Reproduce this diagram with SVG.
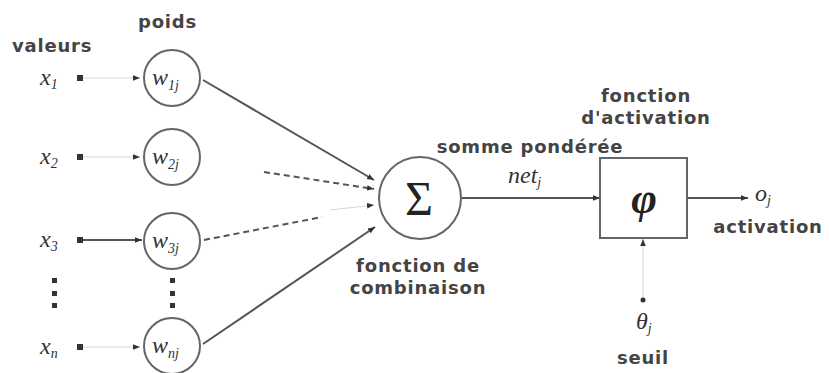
<svg xmlns="http://www.w3.org/2000/svg" width="829" height="373" viewBox="0 0 829 373">
<style>
.lbl{font-family:"DejaVu Sans","Liberation Sans",sans-serif;font-size:18px;letter-spacing:0.8px;font-weight:bold;fill:#444}
.var{font-family:"Liberation Serif",serif;font-style:italic;font-size:24px;fill:#333}
.sub{font-size:14px}
.node{fill:#fff;stroke:#666;stroke-width:2}
.ln{stroke:#555;stroke-width:2;fill:none}
.dash{stroke:#555;stroke-width:2;fill:none;stroke-dasharray:6 4}
.faint{stroke:#ccc;stroke-width:0.8;fill:none}
</style>
<defs>
<marker id="ahs" viewBox="0 0 10 10" refX="10" refY="5" markerWidth="7" markerHeight="7" orient="auto" markerUnits="userSpaceOnUse">
<path d="M0,1 L10,5 L0,9 z" fill="#333"/>
</marker>
</defs>

<text class="lbl" x="12" y="52">valeurs</text>
<text class="lbl" x="138" y="28">poids</text>

<g id="connectors">
<line class="faint" x1="82" y1="78" x2="140" y2="78" marker-end="url(#ahs)"/>
<line class="faint" x1="82" y1="157" x2="140" y2="157" marker-end="url(#ahs)"/>
<line class="ln" x1="82" y1="240" x2="142" y2="240" marker-end="url(#ahs)"/>
<line class="faint" x1="82" y1="347" x2="140" y2="347" marker-end="url(#ahs)"/>
<line class="ln" x1="203" y1="80" x2="374" y2="180" marker-end="url(#ahs)"/>
<line class="dash" x1="264" y1="172" x2="374" y2="189" marker-end="url(#ahs)"/>
<line class="dash" x1="204" y1="240" x2="322" y2="217"/>
<line class="faint" x1="330" y1="210" x2="374" y2="205" marker-end="url(#ahs)"/>
<line class="ln" x1="203" y1="344" x2="375" y2="227" marker-end="url(#ahs)"/>
<line class="ln" x1="462" y1="198" x2="600" y2="198" marker-end="url(#ahs)"/>
<line class="ln" x1="688" y1="198" x2="748" y2="198" marker-end="url(#ahs)"/>
<line class="faint" x1="643" y1="300" x2="643" y2="239" marker-end="url(#ahs)"/>
<circle cx="643" cy="300" r="2.5" fill="#333"/>
</g>

<g id="x1"><text class="var" x="40" y="85">x<tspan class="sub" dy="4">1</tspan></text><rect x="77" y="75" width="6" height="6" fill="#333"/></g>
<g id="x2"><text class="var" x="40" y="164">x<tspan class="sub" dy="4">2</tspan></text><rect x="77" y="154" width="6" height="6" fill="#333"/></g>
<g id="x3"><text class="var" x="40" y="247">x<tspan class="sub" dy="4">3</tspan></text><rect x="77" y="237" width="6" height="6" fill="#333"/></g>
<g id="xn"><text class="var" x="40" y="354">x<tspan class="sub" dy="4">n</tspan></text><rect x="77" y="344" width="6" height="6" fill="#333"/></g>

<g id="vdots1" fill="#333"><rect x="52" y="278" width="5" height="5"/><rect x="52" y="291" width="5" height="5"/><rect x="52" y="303" width="5" height="5"/></g>
<g id="vdots2" fill="#333"><rect x="170" y="278" width="5" height="5"/><rect x="170" y="291" width="5" height="5"/><rect x="170" y="303" width="5" height="5"/></g>

<g id="w1j"><circle class="node" cx="172" cy="78" r="28"/><text class="var" x="152" y="85">w<tspan class="sub" dy="5">1j</tspan></text></g>
<g id="w2j"><circle class="node" cx="172" cy="157" r="28"/><text class="var" x="152" y="164">w<tspan class="sub" dy="5">2j</tspan></text></g>
<g id="w3j"><circle class="node" cx="172" cy="241" r="28"/><text class="var" x="152" y="248">w<tspan class="sub" dy="5">3j</tspan></text></g>
<g id="wnj"><circle class="node" cx="172" cy="346" r="28"/><text class="var" x="152" y="353">w<tspan class="sub" dy="5">nj</tspan></text></g>

<g id="sigma"><circle class="node" cx="420" cy="198" r="41"/><text x="419" y="215" text-anchor="middle" font-family="Liberation Serif,serif" font-size="48" fill="#222">Σ</text></g>
<text class="lbl" x="418" y="272" text-anchor="middle">fonction de</text>
<text class="lbl" x="418" y="294" text-anchor="middle">combinaison</text>
<text class="lbl" x="530" y="153" text-anchor="middle">somme pondérée</text>
<text class="var" x="508" y="183">net<tspan class="sub" dy="4">j</tspan></text>

<g id="phi"><rect x="600" y="158" width="87" height="80" fill="#fff" stroke="#666" stroke-width="2"/><text x="644" y="213" text-anchor="middle" font-family="Liberation Serif,serif" font-style="italic" font-weight="bold" font-size="44" fill="#222">φ</text></g>
<text class="lbl" x="646" y="102" text-anchor="middle">fonction</text>
<text class="lbl" x="646" y="124" text-anchor="middle">d'activation</text>
<g id="oj"><text class="var" x="755" y="201">o<tspan class="sub" dy="4">j</tspan></text></g>
<text class="lbl" x="768" y="233" text-anchor="middle">activation</text>
<g id="theta"><text class="var" x="636" y="329">θ<tspan class="sub" dy="4">j</tspan></text></g>
<text class="lbl" x="643" y="364" text-anchor="middle">seuil</text>
</svg>
